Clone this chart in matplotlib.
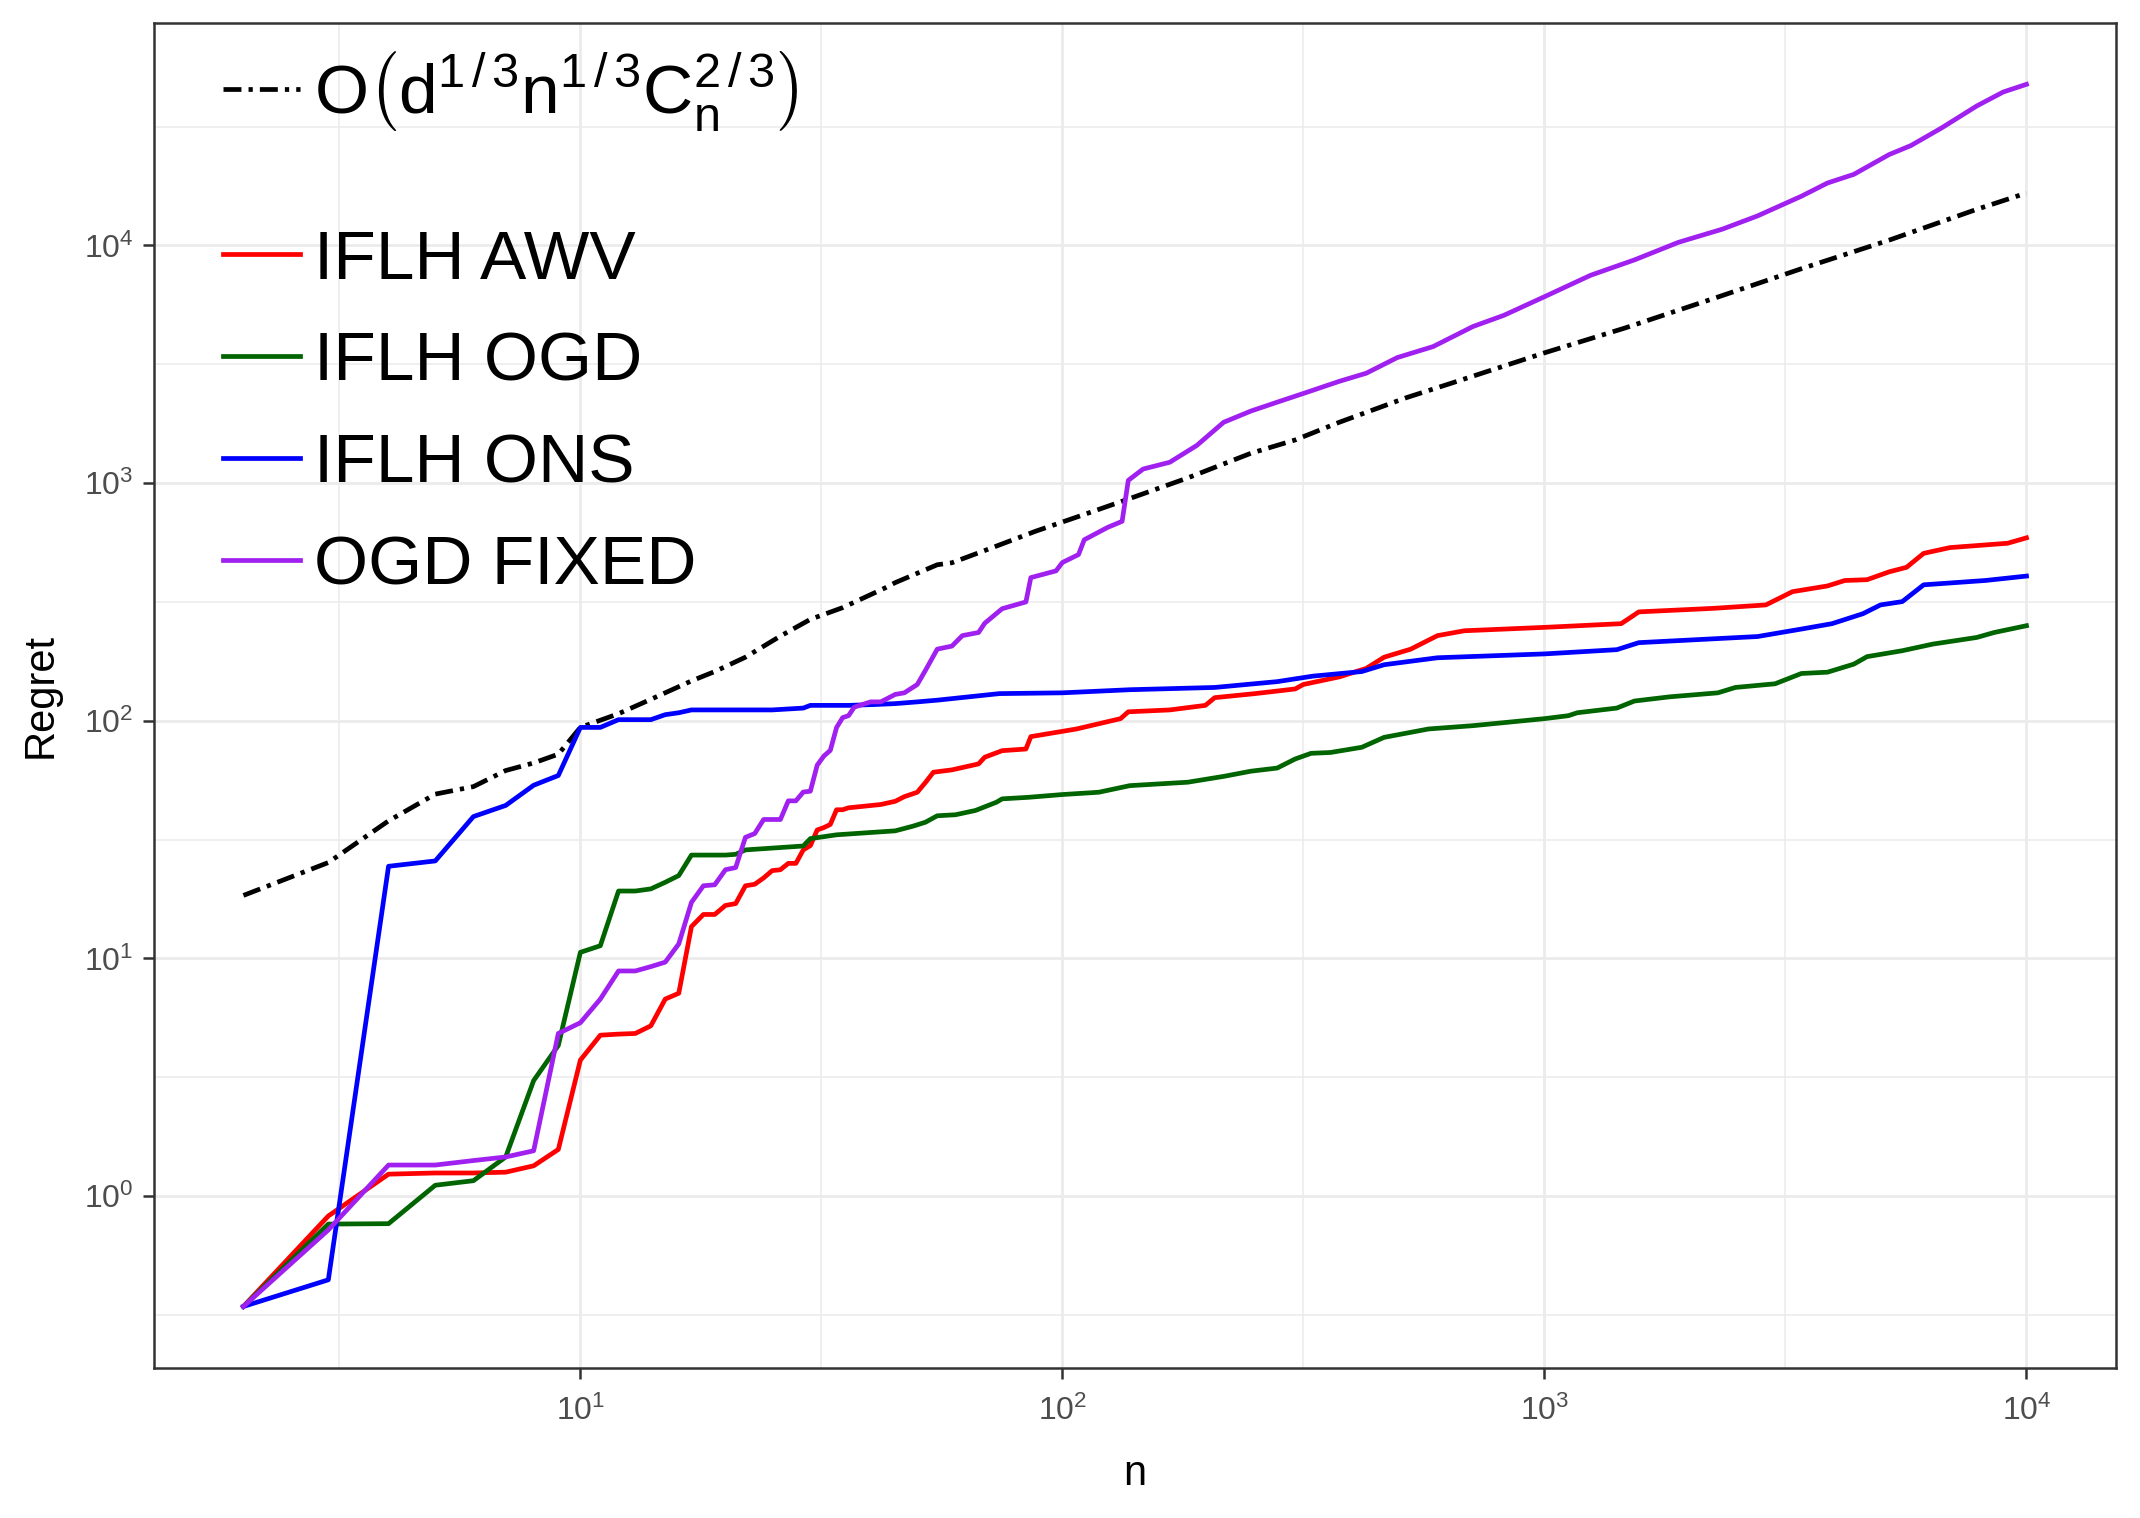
import numpy as np
import matplotlib
matplotlib.use('Agg')
import matplotlib.pyplot as plt
from matplotlib.ticker import FixedLocator, NullFormatter, LogFormatterSciNotation

# fontes parecidas com Helvetica
plt.rcParams['font.family'] = ['Liberation Sans', 'DejaVu Sans']
plt.rcParams['mathtext.fontset'] = 'custom'
plt.rcParams['mathtext.rm'] = 'Liberation Sans'
plt.rcParams['mathtext.it'] = 'Liberation Sans:italic'
plt.rcParams['mathtext.bf'] = 'Liberation Sans:bold'

# dados (n, regret)
n_bound = [2, 3, 4, 5, 6, 7, 8, 9, 10, 12, 14, 17, 19, 22, 26, 30, 35, 43, 45, 55, 59,
           69, 88, 109, 135, 182, 246, 304, 376, 517, 637, 1000, 1473, 2243, 3413,
           5190, 7887, 10000]
reg_bound = [18.4, 25.3, 37.9, 49.1, 52.8, 61.7, 66.4, 72.3, 93.7, 107, 123, 147, 161,
             185, 227, 267, 299, 363, 381, 453, 462, 520, 627, 728, 847, 1051, 1334,
             1518, 1804, 2286, 2620, 3530, 4498, 5976, 7976, 10520, 14180, 16600]

n_awv = [2, 3, 4, 5, 6, 7, 8, 9, 10, 11, 12, 13, 14, 15, 16, 17, 18, 19, 20, 21, 22,
         23, 24, 25, 26, 27, 28, 29, 30, 31, 32, 33, 34, 35, 36, 42, 45, 47, 50, 52, 54,
         59, 67, 69, 75, 84, 86, 107, 132, 137, 167, 198, 207, 251, 304, 316, 376, 427,
         465, 528, 600, 682, 1000, 1443, 1570, 2243, 2880, 3270, 3866, 4200, 4670,
         5190, 5640, 6120, 6940, 9140, 10000]
reg_awv = [0.343, 0.824, 1.236, 1.25, 1.25, 1.26, 1.34, 1.57, 3.73, 4.75, 4.8, 4.83,
           5.2, 6.74, 7.13, 13.6, 15.3, 15.3, 16.7, 17.0, 20.2, 20.5, 21.8, 23.4, 23.6,
           25.1, 25.1, 28.6, 29.8, 34.7, 35.5, 36.6, 42.2, 42.2, 43.0, 44.4, 45.8, 47.9,
           50.0, 55.0, 60.7, 62.1, 65.8, 70.2, 74.8, 76.0, 85.7, 92.3, 102, 109, 111,
           116, 125, 130, 136, 142, 153, 166, 185, 200, 228, 239, 247, 256, 287, 297,
           307, 349, 369, 389, 392, 423, 442, 506, 535, 558, 588]

n_ogd = [2, 3, 4, 5, 6, 7, 8, 9, 10, 11, 12, 13, 14, 15, 16, 17, 20, 21, 22, 29, 30, 34,
         45, 49, 52, 55, 60, 66, 73, 75, 85, 100, 119, 138, 182, 216, 246, 279, 304,
         328, 360, 418, 465, 575, 711, 1000, 1122, 1170, 1413, 1537, 1818, 2290, 2490,
         3010, 3413, 3866, 4385, 4670, 5525, 6390, 7887, 8570, 10000]
reg_ogd = [0.343, 0.762, 0.765, 1.11, 1.16, 1.46, 3.06, 4.3, 10.6, 11.3, 19.2, 19.2,
           19.6, 20.9, 22.3, 27.2, 27.2, 27.4, 28.6, 29.7, 31.9, 33.1, 34.4, 36.0, 37.4,
           39.8, 40.2, 41.9, 45.4, 46.9, 47.6, 48.9, 50.0, 53.3, 55.1, 58.3, 61.3, 63.2,
           69.0, 72.9, 73.5, 77.3, 85.1, 92.3, 95.3, 102, 105, 108, 113, 121, 126, 131,
           138, 143, 158, 160, 173, 186, 197, 210, 224, 235, 251]

n_ons = [2, 3, 4, 5, 6, 7, 8, 9, 10, 11, 12, 14, 15, 16, 17, 25, 29, 30, 36, 41, 45, 50,
         55, 74, 100, 138, 207, 279, 331, 418, 465, 600, 1000, 1413, 1570, 2767, 3413,
         3950, 4580, 4980, 5525, 6120, 8220, 10000]
reg_ons = [0.343, 0.444, 24.4, 25.7, 39.5, 44, 53.5, 58.8, 93.7, 93.7, 101, 101, 106,
           108, 111, 111, 113, 116, 116, 117, 118, 120, 122, 130, 131, 135, 138, 146,
           154, 161, 172, 184, 191, 199, 213, 226, 243, 256, 282, 307, 317, 373, 389, 406]

n_fixed = [2, 3, 4, 5, 6, 7, 8, 9, 10, 11, 12, 13, 14, 15, 16, 17, 18, 19, 20, 21, 22,
           23, 24, 26, 27, 28, 29, 30, 31, 32, 33, 34, 35, 36, 37, 40, 42, 45, 47, 50, 52,
           55, 59, 62, 67, 69, 75, 84, 86, 97, 100, 108, 111, 124, 133, 137, 147, 167,
           190, 216, 246, 279, 317, 376, 427, 495, 588, 711, 824, 1000, 1246, 1538, 1897,
           2339, 2767, 3413, 3866, 4385, 5188, 5758, 6668, 7887, 8953, 10000]
reg_fixed = [0.343, 0.72, 1.35, 1.35, 1.41, 1.46, 1.55, 4.83, 5.36, 6.74, 8.85, 8.85,
             9.23, 9.64, 11.5, 17.2, 20.2, 20.4, 23.6, 24.1, 32.3, 33.5, 38.4, 38.4, 46.0,
             46.0, 50.1, 50.5, 65.0, 71.0, 75.0, 93.6, 103, 105, 114, 120, 120, 129, 131,
             142, 163, 200, 206, 228, 235, 257, 296, 316, 400, 427, 463, 500, 577, 650,
             690, 1026, 1145, 1223, 1439, 1801, 2008, 2189, 2386, 2682, 2898, 3371, 3753,
             4557, 5078, 6080, 7480, 8690, 10300, 11700, 13300, 16100, 18300, 19900,
             24100, 26300, 31200, 38600, 44200, 47600]

bound_label = r'$\mathrm{O}\left(\mathrm{d}^{1\,/\,3}\mathrm{n}^{1\,/\,3}\mathrm{C}_{\mathrm{n}}^{2\,/\,3}\right)$'
series = [
    ('IFLH AWV', n_awv, reg_awv, '#FF0000'),
    ('IFLH OGD', n_ogd, reg_ogd, '#006400'),
    ('IFLH ONS', n_ons, reg_ons, '#0000FF'),
    ('OGD FIXED', n_fixed, reg_fixed, '#A020F0'),
]

fig = plt.figure(figsize=(10.7, 7.59), dpi=200)
ax = fig.add_axes([0.0721, 0.0991, 0.9165, 0.8856])
ax.set_xscale('log')
ax.set_yscale('log')

lw = 1.7
linha_bound, = ax.plot(n_bound, reg_bound, color='black', lw=lw,
                       dashes=(3.8, 1.5, 0.9, 1.5), label=bound_label)
linhas = []
for nome, xs, ys, cor in series:
    l, = ax.plot(xs, ys, color=cor, lw=lw, label=nome)
    linhas.append(l)

# limites com expansao de 5% (estilo ggplot)
todos_n = n_bound + n_awv + n_ogd + n_ons + n_fixed
todos_r = reg_bound + reg_awv + reg_ogd + reg_ons + reg_fixed
lx = np.log10([min(todos_n), max(todos_n)])
ly = np.log10([min(todos_r), max(todos_r)])
px = 0.05 * (lx[1] - lx[0])
py = 0.05 * (ly[1] - ly[0])
ax.set_xlim(10 ** (lx[0] - px), 10 ** (lx[1] + px))
ax.set_ylim(10 ** (ly[0] - py), 10 ** (ly[1] + py))

ax.xaxis.set_major_locator(FixedLocator([10.0 ** k for k in range(1, 5)]))
ax.yaxis.set_major_locator(FixedLocator([10.0 ** k for k in range(0, 5)]))
ax.xaxis.set_major_formatter(LogFormatterSciNotation())
ax.yaxis.set_major_formatter(LogFormatterSciNotation())
ax.xaxis.set_minor_locator(FixedLocator([10 ** (k + 0.5) for k in range(-1, 5)]))
ax.yaxis.set_minor_locator(FixedLocator([10 ** (k + 0.5) for k in range(-1, 5)]))
ax.xaxis.set_minor_formatter(NullFormatter())
ax.yaxis.set_minor_formatter(NullFormatter())

ax.set_axisbelow(True)
ax.grid(which='major', color='#EBEBEB', lw=1.0)
ax.grid(which='minor', color='#EBEBEB', lw=0.55)
ax.tick_params(which='major', length=4, width=0.9, color='#333333',
               labelcolor='#4D4D4D', labelsize=11.5)
ax.tick_params(axis='x', which='major', pad=6)
ax.tick_params(axis='y', which='major', pad=3.5)
ax.tick_params(which='minor', length=0)
for sp in ax.spines.values():
    sp.set_color('#333333')
    sp.set_linewidth(0.9)

ax.set_xlabel('n', fontsize=15, va='center')
ax.set_ylabel('Regret', fontsize=15, va='center')
ax.xaxis.set_label_coords(0.4997, -0.079)
ax.yaxis.set_label_coords(-0.058, 0.50)

leg1 = ax.legend(handles=[linha_bound], loc='center left',
                 bbox_to_anchor=(0.0348, 0.949), frameon=False, fontsize=25,
                 handlelength=1.12, handletextpad=0.2, borderpad=0, borderaxespad=0)
ax.add_artist(leg1)
ax.legend(handles=linhas, loc='center left', bbox_to_anchor=(0.0348, 0.7097),
          frameon=False, fontsize=25, handlelength=1.12, handletextpad=0.2,
          borderpad=0, borderaxespad=0, labelspacing=0.545)

fig.savefig('out.png', dpi=200)
